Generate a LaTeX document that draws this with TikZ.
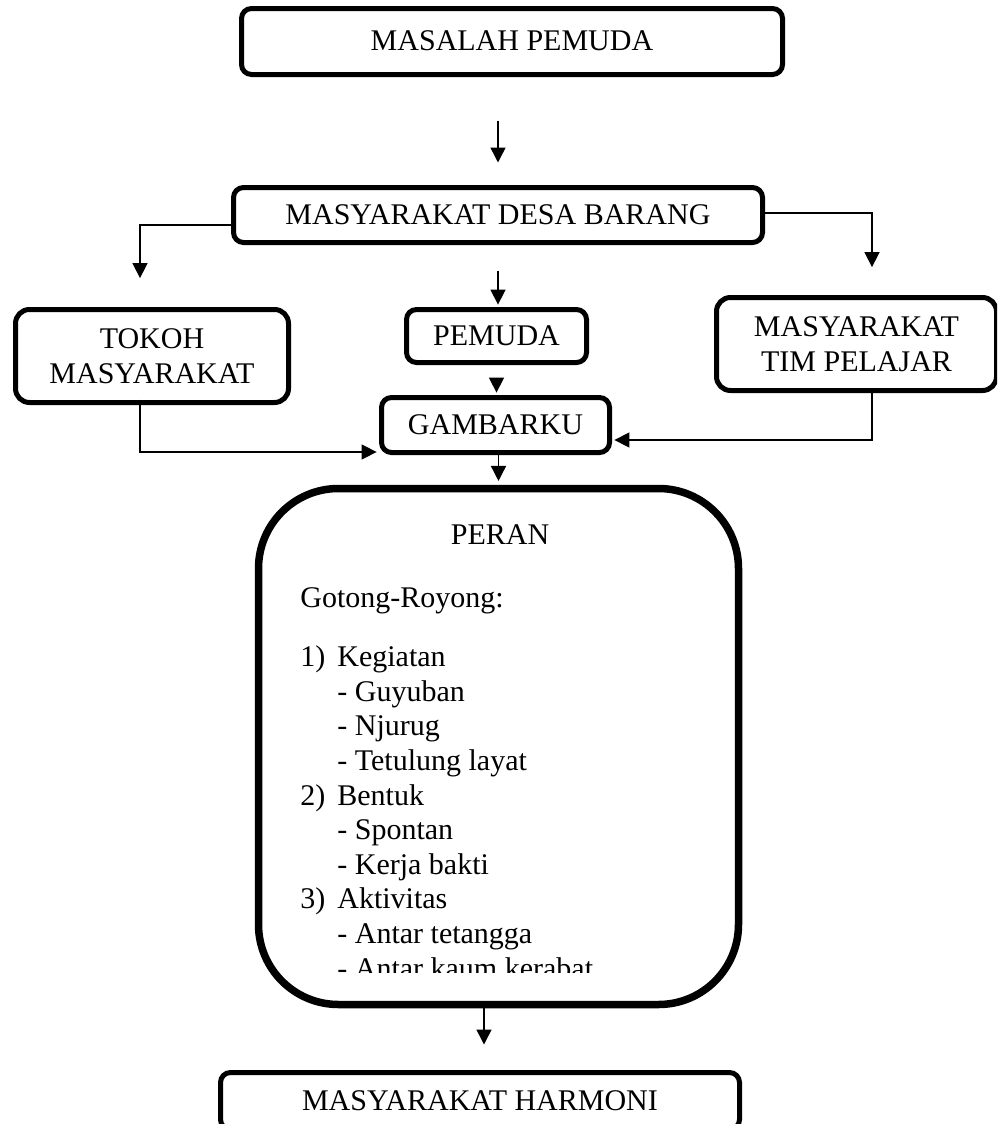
\documentclass[tikz,border=0pt]{standalone}
\usepackage{fontspec}
\setmainfont{Liberation Serif}
\usepackage{tikz}
\usetikzlibrary{arrows.meta,positioning}

\begin{document}
\begin{tikzpicture}[
    x=0.5pt, y=-0.5pt,
    font=\fontsize{15pt}{17.3pt}\selectfont,
    >={Triangle[length=7.5pt,width=7.5pt]},
    box/.style={rectangle, draw, line width=2.5pt, rounded corners=5pt, align=center, inner sep=0pt},
    lowtext/.style={text height=0.9em, text depth=0pt},
    bigbox/.style={rectangle, draw, line width=3.75pt, rounded corners=40pt, inner sep=0pt},
    conn/.style={->, line width=0.75pt, shorten >=1.2pt}
]
    \useasboundingbox (0,0) rectangle (997,1124);
    \clip (0,0) rectangle (997,1124);

    % Top
    \node[box, lowtext, minimum width=270.5pt, minimum height=33pt] (masalah) at (512,41.5) {MASALAH PEMUDA};
    \node[box, lowtext, minimum width=264.5pt, minimum height=27.5pt] (desa) at (498,215) {MASYARAKAT DESA BARANG};

    % Middle row
    \node[box, rounded corners=7pt, minimum width=136.5pt, minimum height=46.5pt] (tokoh) at (152,356) {TOKOH\\MASYARAKAT};
    \node[box, lowtext, minimum width=90pt, minimum height=26.5pt] (pemuda) at (496.5,336) {PEMUDA};
    \node[box, rounded corners=7pt, minimum width=140pt, minimum height=46.5pt] (timpel) at (856.5,344) {MASYARAKAT\\TIM PELAJAR};
    \node[box, lowtext, minimum width=114pt, minimum height=27.5pt] (gambar) at (495.5,425) {GAMBARKU};

    % Peran
    \node[bigbox, minimum width=240pt, minimum height=258pt] (peran) at (498.5,746.5) {};
    \node[lowtext] (perantitle) at (500,535) {PERAN};
    \node[anchor=base west, inner sep=0pt] (gotong) at (300,607) {Gotong-Royong:};
    \begin{scope}
        \clip (255,480) rectangle (745,972);
        \node[anchor=base west, align=left, inner sep=0pt] (kegiatan) at (300,978) {%
            \makebox[18.5pt][l]{1)}Kegiatan\\
            \hspace*{18.5pt}- Guyuban\\
            \hspace*{18.5pt}- Njurug\\
            \hspace*{18.5pt}- Tetulung layat\\
            \makebox[18.5pt][l]{2)}Bentuk\\
            \hspace*{18.5pt}- Spontan\\
            \hspace*{18.5pt}- Kerja bakti\\
            \makebox[18.5pt][l]{3)}Aktivitas\\
            \hspace*{18.5pt}- Antar tetangga\\
            \hspace*{18.5pt}- Antar kaum kerabat};
    \end{scope}

    % Bottom
    \node[box, lowtext, minimum width=259.5pt, minimum height=28.5pt] (harmoni) at (480,1101) {MASYARAKAT HARMONI};

    % Connections
    \coordinate (hin) at ([xshift=2pt]harmoni.north);
    \draw[conn, shorten <=21.75pt, shorten >=11.25pt] (masalah.south -| desa.north) -- (desa.north);
    \draw[conn] ([yshift=-5pt]desa.west) -| ([xshift=-6pt,yshift=13.25pt]tokoh.north);
    \draw[conn] ([yshift=1pt]desa.east) -| ([xshift=7.75pt,yshift=12.75pt]timpel.north);
    \draw[conn, shorten <=12.75pt] (desa.south) -- (desa.south |- pemuda.north);
    \draw[conn, shorten <=6.25pt] (pemuda.south) -- (pemuda.south |- gambar.north);
    \draw[conn] ([xshift=-6pt,yshift=2.75pt]tokoh.south) |- ([yshift=-13.5pt]gambar.west);
    \draw[conn] ([xshift=7.75pt,yshift=2.75pt]timpel.south) |- ([yshift=-7.5pt]gambar.east);
    \draw[conn, shorten >=1.9pt] (gambar.south -| peran.north) -- (peran.north);
    \draw[conn, shorten >=12.75pt] (hin |- peran.south) -- (hin);
\end{tikzpicture}
\end{document}
